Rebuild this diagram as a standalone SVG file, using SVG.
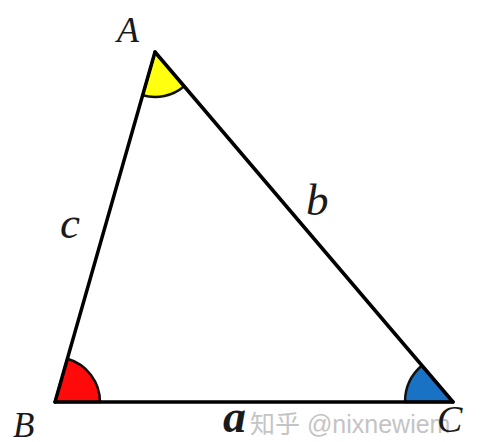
<svg xmlns="http://www.w3.org/2000/svg" width="492" height="442" viewBox="0 0 492 442">
<style>
.lbl{font-family:"Liberation Serif","DejaVu Serif",serif;font-style:italic;fill:#1a1a1a}
.sec{stroke:#111;stroke-width:2.5;stroke-linejoin:round}
.edge{stroke:#000;stroke-width:3.5;fill:none;stroke-linecap:round}
.wm{font-family:"Liberation Sans","Noto Sans CJK SC",sans-serif;fill:#c4c4c4;font-size:25px}
</style>
<rect width="492" height="442" fill="#fff"/>
<g id="angles">
<g id="angleA"><path class="sec" fill="#ffff10" d="M155,52 L142.6,95.3 A45,45 0 0 0 184.2,86.3 Z"/></g>
<g id="angleB"><path class="sec" fill="#ff0a0a" d="M55,402 L67.4,358.7 A45,45 0 0 1 100,402 Z"/></g>
<g id="angleC"><path class="sec" fill="#1a72c4" d="M453,402 L405,402 A48,48 0 0 1 421.9,365.5 Z"/></g>
</g>
<g id="connectors">
<line class="edge" x1="155" y1="52" x2="55" y2="402"/>
<line class="edge" x1="155" y1="52" x2="453" y2="402"/>
<line class="edge" x1="55" y1="402" x2="453" y2="402"/>
</g>
<text class="wm" x="250" y="433">知乎 @nixnewiem</text>
<g id="A"><text class="lbl" x="117" y="42" font-size="36">A</text></g>
<g id="B"><text class="lbl" x="13" y="437" font-size="35">B</text></g>
<g id="C"><text class="lbl" x="437" y="432" font-size="38">C</text></g>
<g id="c"><text class="lbl" x="60" y="238" font-size="45">c</text></g>
<g id="b"><text class="lbl" x="306" y="215" font-size="45">b</text></g>
<g id="a"><text class="lbl" x="223" y="432" font-size="46" font-weight="bold">a</text></g>
</svg>
